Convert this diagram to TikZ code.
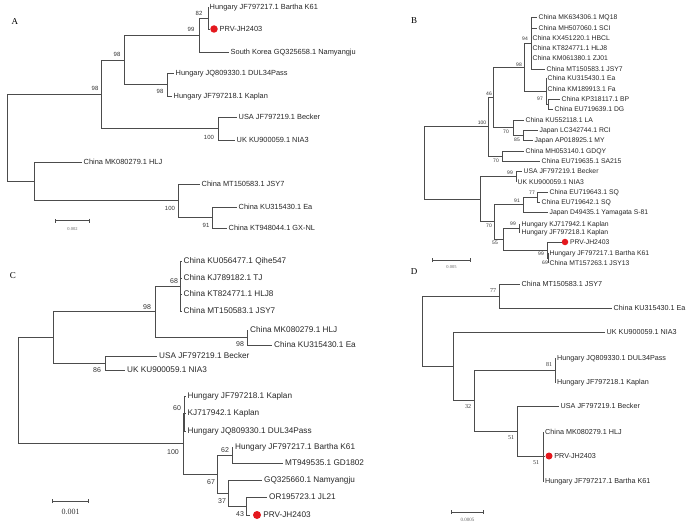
\documentclass[tikz,border=0pt]{standalone}
\usepackage{fontspec}
\setmainfont{Liberation Serif}
\setsansfont{Liberation Sans}
\usetikzlibrary{positioning,arrows.meta}
\definecolor{prvred}{RGB}{228,24,30}

\begin{document}
\begin{tikzpicture}[x=1pt,y=-1pt,
    br/.style={draw=black!70,line width=0.7pt},
    lf/.style={anchor=west,inner sep=1.5pt,text=black!85},
    lfA/.style={lf,font=\sffamily\fontsize{7.4}{8}\selectfont,text height=5.9pt,text depth=0.6pt},
    lfB/.style={lf,font=\sffamily\fontsize{6.8}{7}\selectfont,text height=5.4pt,text depth=0.5pt},
    lfC/.style={lf,inner sep=2pt,font=\sffamily\fontsize{8.2}{9}\selectfont,text height=6.6pt,text depth=0.7pt},
    lfD/.style={lf,font=\sffamily\fontsize{7.2}{8}\selectfont,text height=5.8pt,text depth=0.6pt},
    bsA/.style={inner sep=0pt,text=black!80,font=\sffamily\fontsize{6}{6}\selectfont},
    bsB/.style={inner sep=0pt,text=black!80,font=\sffamily\fontsize{5}{5}\selectfont},
    bsC/.style={inner sep=0pt,text=black!80,font=\sffamily\fontsize{7}{7}\selectfont},
    bsD/.style={inner sep=0pt,text=black!80,font=\rmfamily\fontsize{6}{6}\selectfont},
    dot/.style={circle,fill=prvred,inner sep=0pt,minimum size=#1},
    sbar/.style={draw=black!70,line width=0.7pt,{Bar[width=4pt]}-{Bar[width=4pt]}},
    panel/.style={inner sep=0pt,font=\rmfamily\fontsize{9}{9}\selectfont}]
  \useasboundingbox (0,0) rectangle (700,527);

  % panel letters
  \node[panel] (pA) at (15,22) {A};
  \node[panel] (pB) at (414,21) {B};
  \node[panel] (pC) at (13,276) {C};
  \node[panel] (pD) at (414,272) {D};

  % ---------- tree A ----------
  \coordinate (A0) at (7,137.7);
  \coordinate (A98a) at (101,94);
  \coordinate (A98b) at (124,60);
  \coordinate (A99) at (199,35);
  \coordinate (A82) at (208,18);
  \coordinate (A98c) at (167,84.5);
  \coordinate (A100a) at (218,128.5);
  \coordinate (Ahl) at (34,181.4);
  \coordinate (A100b) at (178,200.75);
  \coordinate (A91) at (212,217.5);

  \node[lfA] (a1) at (208,7) {Hungary JF797217.1 Bartha K61};
  \node[dot=7.5pt] (aP) at (214,29) {};
  \node[lfA,right=0pt of aP] (aPl) {PRV-JH2403};
  \node[lfA] (a2) at (229,52) {South Korea GQ325658.1 Namyangju};
  \node[lfA] (a3) at (174,73) {Hungary JQ809330.1 DUL34Pass};
  \node[lfA] (a4) at (172,96) {Hungary JF797218.1 Kaplan};
  \node[lfA] (a5) at (237,117) {USA JF797219.1 Becker};
  \node[lfA] (a6) at (235,140) {UK KU900059.1 NIA3};
  \node[lfA] (a7) at (82,162) {China MK080279.1 HLJ};
  \node[lfA] (a8) at (200,184) {China MT150583.1 JSY7};
  \node[lfA] (a9) at (237,207) {China KU315430.1 Ea};
  \node[lfA] (a10) at (227,228) {China KT948044.1 GX-NL};

  \draw[br] (A0) |- (A98a) (A0) |- (Ahl)
    (A98a) |- (A98b) (A98a) |- (A100a)
    (A98b) |- (A99) (A98b) |- (A98c)
    (A99) |- (A82) (A99) |- (a2.west)
    (A82) |- (a1.west) (A82) |- (aP.west)
    (A98c) |- (a3.west) (A98c) |- (a4.west)
    (A100a) |- (a5.west) (A100a) |- (a6.west)
    (Ahl) |- (a7.west) (Ahl) |- (A100b)
    (A100b) |- (a8.west) (A100b) |- (A91)
    (A91) |- (a9.west) (A91) |- (a10.west);

  \node[bsA] (sA1) at (199,13) {82};
  \node[bsA] (sA2) at (191,29) {99};
  \node[bsA] (sA3) at (117,54) {98};
  \node[bsA] (sA4) at (160,91) {98};
  \node[bsA] (sA5) at (95,88) {98};
  \node[bsA] (sA6) at (209,137) {100};
  \node[bsA] (sA7) at (170,208) {100};
  \node[bsA] (sA8) at (206,225) {91};

  \coordinate (sa1) at (55,220.7);
  \coordinate (sa2) at (90,220.7);
  \draw[sbar] (sa1) -- (sa2);
  \node[inner sep=0pt,text=black!60,font=\rmfamily\fontsize{4.5}{4.5}\selectfont] (saL) at (72.5,229) {0.002};

  % ---------- tree B ----------
  \coordinate (B0) at (424,162.8);
  \coordinate (B100) at (488,126.5);
  \coordinate (B46) at (493,97);
  \coordinate (B98) at (524,67);
  \coordinate (B94) at (531,43);
  \coordinate (Bef) at (546,91);
  \coordinate (B97) at (548,104);
  \coordinate (B70a) at (513,127.5);
  \coordinate (B85) at (523,135);
  \coordinate (B70b) at (502,156);
  \coordinate (Blo) at (480,199);
  \coordinate (B99a) at (516,176.5);
  \coordinate (B70c) at (494,221.75);
  \coordinate (B91) at (523,204.5);
  \coordinate (B77) at (537,197);
  \coordinate (B55) at (503,239);
  \coordinate (B99b) at (519,228);
  \coordinate (B99c) at (547,250);
  \coordinate (B69) at (548,258);

  \node[lfB] (b1) at (537,17) {China MK634306.1 MQ18};
  \node[lfB] (b2) at (537,28) {China MH507060.1 SCI};
  \node[lfB] (b3) at (531,38) {China KX451220.1 HBCL};
  \node[lfB] (b4) at (531,48) {China KT824771.1 HLJ8};
  \node[lfB] (b5) at (531,58) {China KM061380.1 ZJ01};
  \node[lfB] (b6) at (545,69) {China MT150583.1 JSY7};
  \node[lfB] (b7) at (546,78) {China KU315430.1 Ea};
  \node[lfB] (b8) at (546,89) {China KM189913.1 Fa};
  \node[lfB] (b9) at (560,99) {China KP318117.1 BP};
  \node[lfB] (b10) at (553,109) {China EU719639.1 DG};
  \node[lfB] (b11) at (524,120) {China KU552118.1 LA};
  \node[lfB] (b12) at (538,130) {Japan LC342744.1 RCI};
  \node[lfB] (b13) at (533,140) {Japan AP018925.1 MY};
  \node[lfB] (b14) at (524,151) {China MH053140.1 GDQY};
  \node[lfB] (b15) at (540,161) {China EU719635.1 SA215};
  \node[lfB] (b16) at (522,171) {USA JF797219.1 Becker};
  \node[lfB] (b17) at (516,182) {UK KU900059.1 NIA3};
  \node[lfB] (b18) at (548,192) {China EU719643.1 SQ};
  \node[lfB] (b19) at (540,202) {China EU719642.1 SQ};
  \node[lfB] (b20) at (548,212) {Japan D49435.1 Yamagata S-81};
  \node[lfB] (b21) at (520,224) {Hungary KJ717942.1 Kaplan};
  \node[lfB] (b22) at (520,232) {Hungary JF797218.1 Kaplan};
  \node[dot=6.5pt] (bP) at (565,242) {};
  \node[lfB,right=0pt of bP] (bPl) {PRV-JH2403};
  \node[lfB] (b23) at (548,253) {Hungary JF797217.1 Bartha K61};
  \node[lfB] (b24) at (548,263) {China MT157263.1 JSY13};

  \draw[br] (B0) |- (B100) (B0) |- (Blo)
    (B100) |- (B46) (B100) |- (B70b)
    (B46) |- (B98) (B46) |- (B70a)
    (B98) |- (B94) (B98) |- (Bef)
    (B94) |- (b1.west) (B94) |- (b2.west) (B94) |- (b3.west)
    (B94) |- (b4.west) (B94) |- (b5.west) (B94) |- (b6.west)
    (Bef) |- (b7.west) (Bef) |- (b8.west) (Bef) |- (B97)
    (B97) |- (b9.west) (B97) |- (b10.west)
    (B70a) |- (b11.west) (B70a) |- (B85)
    (B85) |- (b12.west) (B85) |- (b13.west)
    (B70b) |- (b14.west) (B70b) |- (b15.west)
    (Blo) |- (B99a) (Blo) |- (B70c)
    (B99a) |- (b16.west) (B99a) |- (b17.west)
    (B70c) |- (B91) (B70c) |- (B55)
    (B91) |- (B77) (B91) |- (b20.west)
    (B77) |- (b18.west) (B77) |- (b19.west)
    (B55) |- (B99b) (B55) |- (B99c)
    (B99b) |- (b21.west) (B99b) |- (b22.west)
    (B99c) |- (bP.west) (B99c) |- (B69)
    (B69) |- (b23.west) (B69) |- (b24.west);

  \node[bsB] (sB1) at (525,39) {94};
  \node[bsB] (sB2) at (519,65) {98};
  \node[bsB] (sB3) at (540,99) {97};
  \node[bsB] (sB4) at (489,94) {46};
  \node[bsB] (sB5) at (482,123) {100};
  \node[bsB] (sB6) at (506,132) {70};
  \node[bsB] (sB7) at (517,140) {85};
  \node[bsB] (sB8) at (496,161) {70};
  \node[bsB] (sB9) at (510,173) {99};
  \node[bsB] (sB10) at (532,193) {77};
  \node[bsB] (sB11) at (517,201) {91};
  \node[bsB] (sB12) at (489,226) {70};
  \node[bsB] (sB13) at (513,224) {99};
  \node[bsB] (sB14) at (495,243) {55};
  \node[bsB] (sB15) at (541,254) {99};
  \node[bsB] (sB16) at (545,263) {69};

  \coordinate (sb1) at (432,260);
  \coordinate (sb2) at (471,260);
  \draw[sbar] (sb1) -- (sb2);
  \node[inner sep=0pt,text=black!60,font=\rmfamily\fontsize{4.5}{4.5}\selectfont] (sbL) at (451.5,267) {0.005};

  % ---------- tree C ----------
  \coordinate (C0) at (18,390.6);
  \coordinate (Cup) at (53,337.4);
  \coordinate (C98a) at (155,311.75);
  \coordinate (C68) at (180,286);
  \coordinate (C98b) at (247,337.5);
  \coordinate (C86) at (105,363);
  \coordinate (C100) at (183,443.75);
  \coordinate (C60) at (184,413.5);
  \coordinate (C67) at (217,474);
  \coordinate (C62) at (232,455);
  \coordinate (C37) at (228,493);
  \coordinate (C43) at (246,506);

  \node[lfC] (c1) at (181.5,261) {China KU056477.1 Qihe547};
  \node[lfC] (c2) at (181.5,278) {China KJ789182.1 TJ};
  \node[lfC] (c3) at (181.5,294) {China KT824771.1 HLJ8};
  \node[lfC] (c4) at (181.5,311) {China MT150583.1 JSY7};
  \node[lfC] (c5) at (248,330) {China MK080279.1 HLJ};
  \node[lfC] (c6) at (272,345) {China KU315430.1 Ea};
  \node[lfC] (c7) at (157,356) {USA JF797219.1 Becker};
  \node[lfC] (c8) at (125,370) {UK KU900059.1 NIA3};
  \node[lfC] (c9) at (185.5,396) {Hungary JF797218.1 Kaplan};
  \node[lfC] (c10) at (185.5,413) {KJ717942.1 Kaplan};
  \node[lfC] (c11) at (185.5,431) {Hungary JQ809330.1 DUL34Pass};
  \node[lfC] (c12) at (233,447) {Hungary JF797217.1 Bartha K61};
  \node[lfC] (c13) at (283,463) {MT949535.1 GD1802};
  \node[lfC] (c14) at (262,480) {GQ325660.1 Namyangju};
  \node[lfC] (c15) at (267,497) {OR195723.1 JL21};
  \node[dot=8pt] (cP) at (257,515) {};
  \node[lfC,right=0pt of cP] (cPl) {PRV-JH2403};

  \draw[br] (C0) |- (Cup) (C0) |- (C100)
    (Cup) |- (C98a) (Cup) |- (C86)
    (C98a) |- (C68) (C98a) |- (C98b)
    (C68) |- (c1.west) (C68) |- (c2.west) (C68) |- (c3.west) (C68) |- (c4.west)
    (C98b) |- (c5.west) (C98b) |- (c6.west)
    (C86) |- (c7.west) (C86) |- (c8.west)
    (C100) |- (C60) (C100) |- (C67)
    (C60) |- (c9.west) (C60) |- (c10.west) (C60) |- (c11.west)
    (C67) |- (C62) (C67) |- (C37)
    (C62) |- (c12.west) (C62) |- (c13.west)
    (C37) |- (c14.west) (C37) |- (C43)
    (C43) |- (c15.west) (C43) |- ([xshift=-3pt]cP.west);

  \node[bsC] (sC1) at (174,281) {68};
  \node[bsC] (sC2) at (147,307) {98};
  \node[bsC] (sC3) at (240,344) {98};
  \node[bsC] (sC4) at (97,370) {86};
  \node[bsC] (sC5) at (177,408) {60};
  \node[bsC] (sC6) at (173,452) {100};
  \node[bsC] (sC7) at (225,450) {62};
  \node[bsC] (sC8) at (211,482) {67};
  \node[bsC] (sC9) at (222,501) {37};
  \node[bsC] (sC10) at (240,514) {43};

  \coordinate (sc1) at (52,501);
  \coordinate (sc2) at (89,501);
  \draw[sbar] (sc1) -- (sc2);
  \node[inner sep=0pt,text=black!80,font=\rmfamily\fontsize{8}{8}\selectfont] (scL) at (70.5,512) {0.001};

  % ---------- tree D ----------
  \coordinate (D0) at (422,331);
  \coordinate (D77) at (499,296);
  \coordinate (Dlo) at (453,366);
  \coordinate (D32) at (474,400.6);
  \coordinate (D81) at (555,370);
  \coordinate (D51a) at (517,431);
  \coordinate (D51b) at (543,456.5);

  \node[lfD] (d1) at (520,284) {China MT150583.1 JSY7};
  \node[lfD] (d2) at (612,308) {China KU315430.1 Ea};
  \node[lfD] (d3) at (605,332) {UK KU900059.1 NIA3};
  \node[lfD] (d4) at (555.5,358) {Hungary JQ809330.1 DUL34Pass};
  \node[lfD] (d5) at (555.5,382) {Hungary JF797218.1 Kaplan};
  \node[lfD] (d6) at (559,406) {USA JF797219.1 Becker};
  \node[lfD] (d7) at (543.5,432) {China MK080279.1 HLJ};
  \node[dot=7pt] (dP) at (549,456) {};
  \node[lfD,right=0pt of dP] (dPl) {PRV-JH2403};
  \node[lfD] (d8) at (543.5,481) {Hungary JF797217.1 Bartha K61};

  \draw[br] (D0) |- (D77) (D0) |- (Dlo)
    (D77) |- (d1.west) (D77) |- (d2.west)
    (Dlo) |- (d3.west) (Dlo) |- (D32)
    (D32) |- (D81) (D32) |- (D51a)
    (D81) |- (d4.west) (D81) |- (d5.west)
    (D51a) |- (d6.west) (D51a) |- (D51b)
    (D51b) |- (d7.west) (D51b) |- (dP.west) (D51b) |- (d8.west);

  \node[bsD] (sD1) at (493,291) {77};
  \node[bsD] (sD2) at (549,365) {81};
  \node[bsD] (sD3) at (468,407) {32};
  \node[bsD] (sD4) at (511,438) {51};
  \node[bsD] (sD5) at (536,463) {51};

  \coordinate (sd1) at (451,512);
  \coordinate (sd2) at (484,512);
  \draw[sbar] (sd1) -- (sd2);
  \node[inner sep=0pt,text=black!60,font=\rmfamily\fontsize{5}{5}\selectfont] (sdL) at (467.5,520) {0.0005};
\end{tikzpicture}
\end{document}
